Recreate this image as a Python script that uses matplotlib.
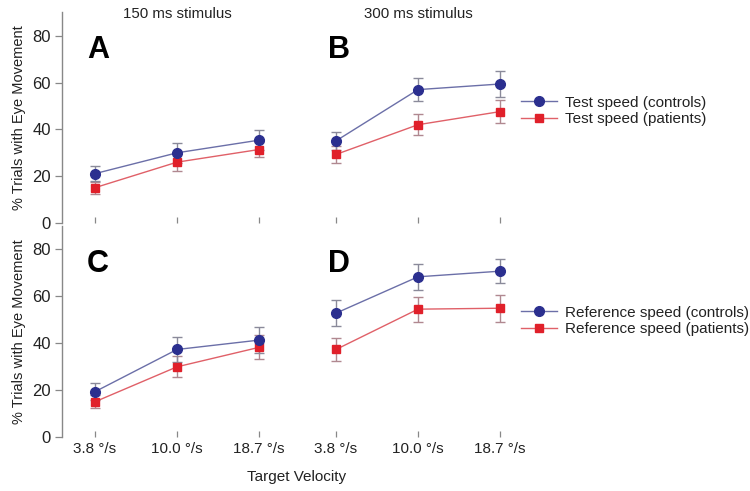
import matplotlib
matplotlib.use("Agg")
import matplotlib.pyplot as plt

plt.rcParams['font.family'] = ['Liberation Sans', 'DejaVu Sans']

xlabels = ["3.8 °/s", "10.0 °/s", "18.7 °/s"]
yticks = [0, 20, 40, 60, 80]

# Panel A: test speed, 150 ms
a_ctrl = [21.1, 30.0, 35.4]
a_ctrl_err = [3.2, 4.3, 4.3]
a_pat = [15.1, 26.0, 31.4]
a_pat_err = [2.5, 3.7, 3.4]
# Panel B: test speed, 300 ms
b_ctrl = [35.1, 57.0, 59.4]
b_ctrl_err = [3.9, 5.0, 5.4]
b_pat = [29.3, 42.0, 47.6]
b_pat_err = [3.6, 4.6, 4.8]
# Panel C: reference speed, 150 ms
c_ctrl = [19.2, 37.2, 41.2]
c_ctrl_err = [3.5, 5.5, 5.4]
c_pat = [14.9, 29.8, 38.1]
c_pat_err = [2.8, 4.5, 5.1]
# Panel D: reference speed, 300 ms
d_ctrl = [52.7, 68.2, 70.6]
d_ctrl_err = [5.6, 5.5, 5.0]
d_pat = [37.2, 54.4, 54.8]
d_pat_err = [4.9, 5.3, 5.7]

blue = "#2b2f8f"
blue_line = "#6b6fa8"
red = "#e0202a"
red_line = "#e06068"
err_col = "#8a8a9a"
err_col_r = "#b08890"

W, H = 750, 491
fig = plt.figure(figsize=(W / 100, H / 100), dpi=100)

def px_axes(left, right, top, bottom):
    return fig.add_axes([left / W, 1 - bottom / H, (right - left) / W, (bottom - top) / H])

lx0, lx1 = 62.2, 291.8
rx0, rx1 = 303.2, 532.8
top_t, top_b = 12.4, 223.0
bot_t, bot_b = 225.7, 436.7

axA = px_axes(lx0, lx1, top_t, top_b)
axB = px_axes(rx0, rx1, top_t, top_b)
axC = px_axes(lx0, lx1, bot_t, bot_b)
axD = px_axes(rx0, rx1, bot_t, bot_b)

panels = [
    (axA, a_ctrl, a_ctrl_err, a_pat, a_pat_err, "A"),
    (axB, b_ctrl, b_ctrl_err, b_pat, b_pat_err, "B"),
    (axC, c_ctrl, c_ctrl_err, c_pat, c_pat_err, "C"),
    (axD, d_ctrl, d_ctrl_err, d_pat, d_pat_err, "D"),
]

x = [0, 1, 2]
for ax, ctrl, ce, pat, pe, letter in panels:
    ax.set_xlim(-0.4, 2.4)
    ax.set_ylim(0, 90)
    ax.errorbar(x, pat, yerr=pe, fmt='none', ecolor=err_col_r, elinewidth=1.0,
                capsize=3.5, capthick=1.0, zorder=2)
    ax.errorbar(x, ctrl, yerr=ce, fmt='none', ecolor=err_col, elinewidth=1.0,
                capsize=3.5, capthick=1.0, zorder=2)
    ax.plot(x, pat, color=red_line, lw=1.0, zorder=3)
    ax.plot(x, pat, 's', color=red, ms=6, mec=red, zorder=4)
    ax.plot(x, ctrl, color=blue_line, lw=1.0, zorder=3)
    ax.plot(x, ctrl, 'o', color=blue, ms=7, mec=blue, zorder=4)
    ax.text(0.108, 0.82, letter, transform=ax.transAxes, fontsize=22,
            fontweight='bold', ha='left', va='center', color='black')
    for s in ['top', 'right', 'bottom']:
        ax.spines[s].set_visible(False)
    ax.set_xticks(x)
    ax.tick_params(axis='x', direction='in', length=4, width=0.9, color='#888888',
                   labelsize=11, pad=4, labelcolor='#222222')
    ax.patch.set_alpha(0)

for ax in (axA, axB):
    ax.set_xticklabels([])
for ax in (axC, axD):
    ax.set_xticklabels(xlabels)

for ax in (axA, axC):
    ax.set_yticks(yticks)
    ax.spines['left'].set_color('#888888')
    ax.spines['left'].set_linewidth(1.0)
    ax.tick_params(axis='y', direction='out', length=5, width=0.9, color='#888888',
                   labelsize=12, pad=3, labelcolor='#222222')
    ax.set_ylabel("% Trials with Eye Movement", fontsize=10.5, color='#222222', labelpad=5)

for ax in (axB, axD):
    ax.spines['left'].set_visible(False)
    ax.set_yticks([])

axA.set_title("150 ms stimulus", fontsize=10.8, color='#222222', pad=0, y=0.975)
axB.set_title("300 ms stimulus", fontsize=10.8, color='#222222', pad=0, y=0.975)

from matplotlib.lines import Line2D
def leg_handles(lab1, lab2):
    h1 = Line2D([0], [0], color=blue_line, lw=1.0, marker='o', ms=7, mfc=blue, mec=blue)
    h2 = Line2D([0], [0], color=red_line, lw=1.0, marker='s', ms=6, mfc=red, mec=red)
    return [h1, h2], [lab1, lab2]

h, l = leg_handles("Test speed (controls)", "Test speed (patients)")
fig.legend(h, l, loc='upper left', bbox_to_anchor=(513 / W, 1 - 88 / H), frameon=False,
           fontsize=11, handlelength=2.4, handletextpad=0.5, labelspacing=0.15,
           borderpad=0, labelcolor='#222222')
h, l = leg_handles("Reference speed (controls)", "Reference speed (patients)")
fig.legend(h, l, loc='upper left', bbox_to_anchor=(513 / W, 1 - 298 / H), frameon=False,
           fontsize=11, handlelength=2.4, handletextpad=0.5, labelspacing=0.15,
           borderpad=0, labelcolor='#222222')

fig.text(297 / W, 1 - 477 / H, "Target Velocity", ha='center', va='center',
         fontsize=11, color='#222222')

fig.savefig("out.png", dpi=100)
